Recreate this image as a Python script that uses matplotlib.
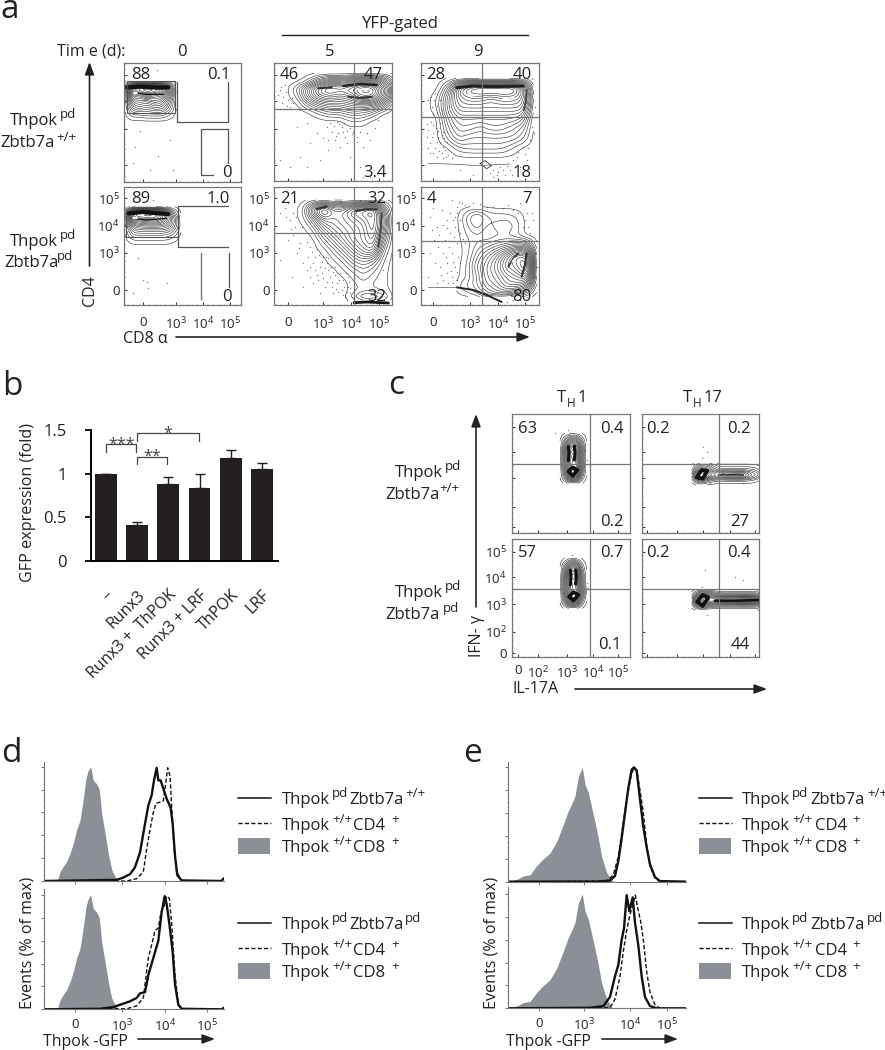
import numpy as np
import matplotlib
matplotlib.use("Agg")
import matplotlib.pyplot as plt
from matplotlib.patches import Rectangle
from matplotlib.ticker import MultipleLocator

plt.rcParams['font.family'] = ['Open Sans', 'DejaVu Sans']
plt.rcParams['mathtext.fontset'] = 'custom'
plt.rcParams['mathtext.rm'] = 'Open Sans'

W, H = 885, 1050
INK = '#222222'
FRAME = '#777777'
FILL = '#8a9096'

# ---- panel b values
bar_names = ['\u2013', 'Runx3', 'Runx3 +  ThPOK', 'Runx3 + LRF', 'ThPOK', 'LRF']
bar_vals = [1.0, 0.41, 0.877, 0.84, 1.18, 1.05]
bar_tops = [1.0, 0.445, 0.958, 0.99, 1.275, 1.12]

# ---- panel a flow data, channels are scanned positions on each plot
a0_top_x = [375, 397, 419, 441, 463, 485, 507, 529]
a0_top_y = [245, 265, 285, 305, 325, 345, 365]
a0_top_z = [[0, 0, 0, 0, 0, 0, 0, 0],
            [0, 12, 16, 16, 16, 14, 7, 0],
            [0, 10, 9, 12, 10, 10, 6, 0],
            [0, 6, 7, 6, 8, 7, 4, 0],
            [0, 4, 5, 4, 5, 5, 3, 0],
            [0, 1.5, 1.5, 2, 2, 2, 1, 0],
            [0, 0, 0, 0, 0, 0, 0, 0]]
a0_bot_x = [375, 399, 423, 447, 471, 495, 519, 543]
a0_bot_y = [620, 640, 660, 680, 700, 720, 740]
a0_bot_z = [[0, 0, 0, 0, 0, 0, 0, 0],
            [0, 14, 15, 15, 14, 10, 3, 0],
            [0, 10, 10, 11, 11, 9, 5, 0],
            [0, 5, 6, 6, 6, 6, 4, 0.6],
            [0, 3, 3, 3, 3, 3, 2, 0],
            [0, 1, 1, 1, 1, 1, 0.6, 0],
            [0, 0, 0, 0, 0, 0, 0, 0]]
a5_top_x = [80, 112, 144, 176, 208, 240, 272, 304, 336, 368, 400]
a5_top_y = [220, 244, 268, 292, 316, 340, 364, 388]
a5_top_z = [[0, 0, 0, 0, 0, 0, 0, 0, 0, 0, 0],
            [0, 0, 1, 4, 6, 6, 7, 8, 8, 6, 2],
            [0, 2, 6, 10, 12, 11, 12, 14, 14, 9, 3],
            [0, 1, 5, 8, 9, 8, 9, 12, 12, 8, 2],
            [0, 0, 2, 4, 5, 5, 6, 6, 6, 4, 0],
            [0, 0, 0, 1, 2, 2, 3, 3, 2, 0, 0],
            [0, 0, 0, 0, 0, 0, 1, 1, 0, 0, 0],
            [0, 0, 0, 0, 0, 0, 0, 0, 0, 0, 0]]
a5_bot_x = [100, 130, 160, 190, 220, 250, 280, 310, 340, 370, 400]
a5_bot_y = [600, 630, 660, 690, 720, 750, 780, 810, 840, 870, 900]
a5_bot_z = [[0, 0, 0, 0, 0, 0, 0, 0, 0, 0, 0],
            [0, 1, 7, 12, 8, 8, 11, 12, 13, 5, 0],
            [0, 0.6, 3, 7, 7, 8, 9, 10, 12, 7, 0],
            [0, 0, 1, 4, 6, 7, 8, 9, 12, 6, 0],
            [0, 0, 0, 2, 4, 6, 8, 9, 11, 4, 0],
            [0, 0, 0, 0.6, 2, 4, 6, 8, 9, 2, 0],
            [0, 0, 0, 0, 1, 2, 4, 5, 4, 1, 0],
            [0, 0, 0, 0, 0, 1, 2, 3, 2, 0.6, 0],
            [0, 0, 0, 0, 0, 0, 1, 2, 1, 0.6, 0],
            [0, 0, 0, 0, 0, 0, 0.6, 1, 1, 0.6, 0],
            [0, 0, 0, 0, 0, 0, 2, 5, 5, 3, 0]]
a9_top_x = [500, 532, 564, 596, 628, 660, 692, 724, 756, 788, 820]
a9_top_y = [235, 265, 295, 325, 355, 385, 415, 445, 475]
a9_top_z = [[0, 0, 0, 0, 0, 0, 0, 0, 0, 0, 0],
            [0, 0, 3, 10, 13, 14, 14, 14, 14, 10, 1],
            [0, 1, 5, 9, 10, 10, 9, 10, 10, 9, 2],
            [0, 1, 5, 8, 8, 8, 8, 8, 8, 8, 1],
            [0, 0, 4, 6, 6, 6, 6, 6, 6, 5, 0],
            [0, 0, 3, 5, 5, 4, 5, 5, 4, 3, 0],
            [0, 0, 2, 4, 3, 3, 3, 3, 3, 2, 0],
            [0, 0, 0, 1.5, 2, 2, 2, 2, 1, 0, 0],
            [0, 0, 0, 0, 0, 0, 0, 0, 0, 0, 0]]
a9_bot_x = [590, 620, 650, 680, 710, 740, 770, 800, 830]
a9_bot_y = [620, 650, 680, 710, 740, 770, 800, 830, 860, 890]
a9_bot_z = [[0, 0, 0, 0, 0, 0, 0, 0, 0],
            [0, 2, 4, 2, 1.5, 1.5, 1, 0, 0],
            [0, 1.5, 3, 1.5, 2, 2.5, 1.5, 0, 0],
            [0, 1, 1.5, 1, 1.5, 1.5, 1, 0, 0],
            [0, 0.6, 2, 3, 4, 5, 6, 6, 0],
            [0, 0.6, 3, 5, 7, 10, 13, 13, 1],
            [0, 1, 4, 6, 8, 11, 12, 15, 1],
            [0, 1, 3, 6, 7, 9, 10, 12, 0.6],
            [1, 2, 3, 5, 6, 8, 8, 6, 0],
            [0, 0, 1, 3, 4, 3, 1, 0, 0]]

a5_top_dots = [(60, 270), (70, 290), (75, 255), (85, 300), (65, 310), (90, 320), (100, 310), (120, 330), (140, 370),
               (170, 400), (200, 380), (215, 395), (230, 365), (245, 380), (255, 410), (270, 385), (225, 420),
               (240, 440), (205, 450), (150, 430), (120, 470), (90, 500), (180, 480), (290, 410), (310, 440),
               (330, 420), (270, 470), (300, 500), (330, 530), (350, 520), (310, 530), (60, 480), (140, 500),
               (260, 430), (235, 400), (190, 415), (280, 395), (300, 395), (355, 360), (380, 340), (110, 380),
               (55, 285), (62, 262), (78, 275), (82, 318), (95, 295), (210, 370), (222, 378), (238, 372), (252, 368),
               (262, 392), (275, 402), (248, 395), (228, 408), (205, 420), (290, 425), (320, 400), (345, 385)]
a5_bot_dots = [(60, 640), (75, 625), (90, 660), (105, 680), (70, 700), (130, 700), (150, 740), (110, 760), (165, 770),
               (130, 790), (180, 800), (200, 790), (150, 830), (175, 840), (210, 830), (195, 860), (230, 850),
               (245, 870), (220, 880), (255, 890), (205, 810), (225, 800), (240, 820), (250, 840), (265, 860),
               (270, 880), (120, 730), (145, 770), (165, 810), (185, 820), (235, 875), (260, 900), (95, 830),
               (60, 780), (85, 720), (200, 845), (215, 860), (265, 830), (190, 770), (370, 810), (380, 760),
               (350, 880), (160, 850), (130, 860), (180, 880), (100, 640), (85, 610), (240, 605), (300, 600),
               (140, 725), (155, 755), (172, 748), (185, 785), (198, 770), (212, 800), (225, 825), (238, 840),
               (252, 860), (262, 875), (275, 892), (268, 845), (258, 818), (205, 775), (178, 765), (160, 790),
               (142, 810), (118, 745), (100, 705), (125, 680), (108, 650), (78, 650), (92, 688), (188, 835),
               (215, 845), (228, 868), (248, 885), (270, 865), (218, 815), (195, 805), (172, 825), (150, 800)]
a9_top_dots = [(505, 300), (515, 320), (530, 340), (510, 350), (525, 280), (540, 370), (505, 390), (520, 400),
               (535, 410), (550, 395), (510, 430), (525, 445), (540, 430), (555, 450), (565, 465), (510, 460),
               (530, 470), (550, 475), (575, 475), (545, 350), (500, 410), (520, 375), (545, 460), (560, 425),
               (700, 510), (720, 500), (735, 525), (750, 510), (710, 525), (690, 520), (770, 470), (790, 440),
               (810, 420), (800, 480), (780, 500), (820, 350), (815, 380), (600, 510), (640, 525), (540, 300),
               (512, 365), (528, 385), (545, 405), (502, 372), (515, 412), (532, 425), (548, 442), (505, 445),
               (520, 458), (538, 452), (558, 470), (568, 450), (552, 415), (535, 392), (518, 342), (532, 318),
               (545, 330), (512, 290), (522, 300), (715, 515), (728, 510), (742, 498), (760, 480), (775, 455),
               (795, 462), (805, 445), (822, 400), (825, 320), (700, 530), (755, 525)]
a9_bot_dots = [(510, 650), (530, 680), (545, 630), (560, 660), (570, 700), (555, 720), (535, 740), (585, 680),
               (590, 730), (575, 760), (560, 790), (540, 800), (585, 800), (575, 830), (550, 840), (530, 850),
               (510, 760), (595, 770), (600, 700), (605, 610), (590, 620), (570, 640), (780, 610), (800, 640),
               (790, 680), (810, 700), (820, 660), (640, 610), (700, 620), (730, 625), (760, 630), (575, 600),
               (590, 840), (560, 820), (600, 790), (505, 830), (525, 790), (770, 880), (790, 880), (760, 900),
               (740, 905), (810, 850), (830, 800), (825, 760), (600, 660), (585, 650), (615, 730), (550, 760),
               (582, 712), (568, 742), (578, 785), (592, 815), (572, 812), (558, 772), (542, 825), (565, 848),
               (580, 850), (595, 690), (608, 718), (562, 685), (578, 660), (590, 640), (598, 605), (615, 615),
               (660, 612), (680, 620), (745, 615), (775, 640), (795, 660), (805, 680), (815, 640), (522, 720),
               (515, 690), (538, 705), (548, 675), (520, 625), (800, 890), (780, 900), (752, 885), (822, 830)]
a0_top_dots = [(420, 393), (510, 420), (400, 488), (475, 468), (450, 510), (470, 210), (405, 440), (520, 510)]
a0_bot_dots = [(415, 775), (440, 845), (400, 880), (445, 865), (430, 840), (460, 600), (500, 850)]

# ridge strokes: x list, y list, width, colour
a0_top_ridges = [([380, 420, 470, 505], [262, 260, 263, 262], 3.0, '#111111'), ([400, 440, 490], [278, 283, 283], 0.9, '#111111'),
                 ([402, 410], [278, 278], 1.4, 'white')]
a0_bot_ridges = [([385, 430, 470, 505], [640, 636, 640, 642], 3.0, '#111111'), ([395, 440, 500], [655, 660, 655], 0.9, '#111111'),
                 ([400, 412], [654, 654], 1.4, 'white')]
a5_top_ridges = [([175, 215], [265, 262], 1.5, '#333333'), ([250, 300, 350], [258, 252, 255], 1.8, '#222222'),
                 ([265, 300, 335], [290, 294, 290], 1.5, '#333333'), ([290, 325], [268, 268], 1.0, 'white')]
a5_bot_ridges = [([170, 200], [627, 620], 1.6, '#333333'), ([285, 320, 350], [633, 628, 628], 1.5, '#333333'),
                 ([365, 362, 355], [640, 690, 740], 1.3, '#444444'), ([282, 320, 385], [908, 906, 909], 2.0, '#111111')]
a9_top_ridges = [([590, 640, 700, 790], [263, 258, 260, 258], 2.2, '#222222'), ([800, 798, 792], [270, 300, 330], 1.3, '#444444'),
                 ([625, 650], [285, 285], 1.2, 'white'), ([730, 760], [295, 293], 1.2, 'white')]
a9_bot_ridges = [([800, 795, 785], [760, 795, 830], 1.6, '#333333'), ([745, 760, 775], [800, 775, 760], 1.3, '#333333'),
                 ([757, 765], [785, 775], 1.2, 'white'), ([590, 640, 680, 725], [862, 870, 885, 906], 1.4, '#222222'),
                 ([505, 590], [862, 862], 0.5, '#555555')]
a9_top_small = [([660, 675, 695, 680, 660], [490, 482, 497, 506, 490], 0.6, '#333333'),
                ([505, 590, 660, 690, 750], [490, 493, 497, 495, 492], 0.5, '#555555')]

# ---- panel c flow data
c1_x = [510, 526, 542, 558, 574, 590]
c1_top_y = [160, 185, 210, 235, 260, 285, 310]
c1_bot_y = [535, 560, 585, 610, 635, 660, 685]
c1_top_z = [[0, 0, 0, 0, 0, 0],
            [0, 3, 7, 7, 3, 0],
            [0, 6, 12, 12, 5, 0],
            [0, 5, 10, 10, 4, 0],
            [0, 5, 10, 12, 5, 0],
            [0, 4, 11, 11, 3, 0],
            [0, 0, 0, 0, 0, 0]]
c1_bot_z = [[0, 0, 0, 0, 0, 0],
            [0, 3, 8, 8, 2, 0],
            [0, 5, 12, 12, 4, 0],
            [0, 5, 10, 10, 4, 0],
            [0, 5, 10, 12, 6, 0.6],
            [0, 4, 11, 10, 3, 0],
            [0, 0, 0, 0, 0, 0]]
c17_x = [905, 930, 955, 980, 1005, 1030, 1055, 1080, 1112]
c17_top_y = [250, 270, 285, 300, 315]
c17_bot_y = [630, 645, 660, 675, 690]
c17_top_z = [[0, 1.5, 2, 0, 0, 0, 0, 0, 0],
             [0, 6, 5, 2, 2, 2, 2, 2, 1],
             [2, 12, 8, 6, 8, 8, 9, 5, 3],
             [0, 5, 2, 1, 1, 1, 1, 1, 0],
             [0, 0, 0, 0, 0, 0, 0, 0, 0]]
c17_bot_z = [[0, 0.6, 1, 0, 0, 0, 0, 0, 0],
             [0, 6, 6, 3, 3, 3, 3, 3, 3],
             [2, 13, 9, 9, 11, 10, 12, 11, 9],
             [0, 6, 4, 3, 3, 3, 3, 3, 3],
             [0, 0, 0, 0, 0, 0, 0, 0, 0]]
c1_top_dots = [(535, 150), (540, 160), (495, 158), (590, 240), (600, 255), (585, 210)]
c1_bot_dots = [(545, 525), (590, 610), (595, 625), (520, 640)]
c17_top_dots = [(940, 200), (935, 235), (950, 215), (1000, 270), (1060, 310), (960, 310)]
c17_bot_dots = [(945, 570), (935, 620), (1035, 590), (950, 705), (1060, 600)]

c1_top_ridges = [([535, 537, 535], [200, 220, 242], 2.2, '#111111'), ([553, 555, 553], [198, 220, 240], 2.2, '#111111'),
                 ([536, 548, 562, 548, 536], [274, 262, 270, 288, 274], 2.6, '#111111')]
c1_bot_ridges = [([541, 543, 541], [570, 590, 615], 2.2, '#111111'), ([557, 559, 557], [570, 590, 612], 2.2, '#111111'),
                 ([538, 550, 565, 550, 538], [650, 636, 645, 662, 650], 2.6, '#111111')]
c17_top_ridges = [([920, 935, 952, 938, 920], [292, 270, 272, 296, 292], 2.6, '#111111'), ([985, 1020, 1060], [285, 284, 285], 1.2, '#333333')]
c17_bot_ridges = [([922, 938, 955, 938, 922], [665, 645, 652, 678, 665], 2.6, '#111111'), ([975, 1040, 1108], [662, 662, 660], 2.0, '#111111')]

# ---- histograms, channel against % of max
d_gray_x = [172, 180, 190, 200, 210, 220, 230, 240, 250, 258, 265, 272, 280, 290, 298, 305, 315, 325, 335, 345, 355]
d_gray_y = [0, 8, 13, 17, 24, 33, 45, 53, 72, 90, 97, 100, 88, 85, 80, 59, 42, 24, 10, 4, 0]
d1_solid_x = [133, 350, 370, 390, 405, 420, 435, 445, 455, 462, 470, 475, 482, 492, 500, 512, 518, 525, 532, 545, 665, 670]
d1_solid_y = [0, 1, 3, 6, 12, 25, 50, 66, 75, 88, 99, 88, 88, 79, 72, 64, 50, 22, 5, 0.5, 0, 2]
d1_dash_x = [133, 380, 410, 430, 440, 450, 460, 468, 480, 490, 497, 503, 510, 515, 522, 530, 545, 672]
d1_dash_y = [0, 0, 2, 8, 28, 45, 60, 68, 69, 70, 85, 99, 92, 65, 30, 8, 0, 0]
d2_solid_x = [133, 300, 340, 370, 390, 410, 420, 435, 445, 460, 475, 485, 494, 500, 508, 518, 525, 535, 545, 665, 670]
d2_solid_y = [0, 0.5, 2, 5, 7, 10, 14, 15, 30, 45, 60, 85, 99, 92, 75, 50, 22, 4, 0.5, 0, 1]
d2_dash_x = [133, 380, 410, 430, 445, 458, 465, 475, 483, 492, 500, 508, 515, 525, 535, 545, 672]
d2_dash_y = [0, 0.5, 3, 10, 45, 60, 69, 71, 85, 90, 99, 97, 75, 30, 5, 0, 0]

e_gray_x = [175, 200, 220, 240, 260, 280, 300, 320, 340, 355, 365, 375, 385, 397, 405, 415, 425, 435, 445, 455, 470, 485, 495]
e_gray_y = [0, 2, 5, 6, 14, 20, 25, 35, 50, 62, 68, 75, 92, 100, 85, 78, 65, 52, 38, 22, 8, 1, 0]
e1_solid_x = [175, 440, 480, 495, 505, 515, 525, 535, 545, 552, 560, 570, 580, 590, 600, 615, 630, 707]
e1_solid_y = [0, 0, 1, 5, 18, 38, 60, 82, 98, 100, 97, 72, 48, 30, 15, 4, 0.5, 0]
e1_dash_x = [175, 470, 490, 505, 515, 525, 535, 545, 552, 560, 570, 580, 590, 600, 615, 630, 707]
e1_dash_y = [0, 0.5, 6, 22, 42, 62, 80, 95, 99, 98, 80, 60, 32, 14, 3, 0, 0]
e2_solid_x = [175, 420, 460, 480, 495, 505, 515, 522, 530, 538, 548, 555, 565, 575, 585, 600, 620, 707]
e2_solid_y = [0, 0.5, 2, 10, 28, 38, 60, 70, 99, 85, 97, 75, 55, 28, 10, 2, 0, 0]
e2_dash_x = [175, 480, 495, 510, 520, 530, 540, 548, 556, 563, 572, 580, 590, 600, 615, 630, 707]
e2_dash_y = [0, 0.5, 8, 28, 50, 68, 82, 90, 99, 88, 76, 60, 32, 14, 3, 0, 0]

fig = plt.figure(figsize=(W / 100, H / 100), dpi=100)


def pax(ox, oy, x0, y0, x1, y1):
    # axes from scan positions, zoomed 3x from origin ox, oy
    left = ox + x0 / 3
    right = ox + x1 / 3
    top = oy + y0 / 3
    bottom = oy + y1 / 3
    ax = fig.add_axes([left / W, 1 - bottom / H, (right - left) / W, (bottom - top) / H])
    ax.set_xlim(x0, x1)
    ax.set_ylim(y1, y0)
    return ax


def soften(gx, gy, gz):
    # finer grid so the contour lines come out round instead of blocky
    gz = np.array(gz, dtype=float)
    xs = np.linspace(gx[0], gx[-1], (len(gx) - 1) * 6 + 1)
    ys = np.linspace(gy[0], gy[-1], (len(gy) - 1) * 6 + 1)
    z = np.array([np.interp(xs, gx, row) for row in gz])
    z = np.array([np.interp(ys, gy, col) for col in z.T]).T
    k = np.ones(5) / 5
    for i in range(2):
        z = np.apply_along_axis(lambda r: np.convolve(r, k, mode='same'), 1, z)
        z = np.apply_along_axis(lambda r: np.convolve(r, k, mode='same'), 0, z)
    return xs, ys, z


LOG = r'$\mathregular{10^{%d}}$'


def flow(ax, gx, gy, gz, dots, vline, hline, nums, xt=None, yt=None, xl=None, yl=None, ridges=(), xpad=8, ypad=3):
    ax.patch.set_alpha(0)
    for s in ax.spines.values():
        s.set_color(FRAME)
        s.set_linewidth(0.9)
    if dots:
        ax.scatter([p[0] for p in dots], [p[1] for p in dots], s=0.9, c='#777777', linewidths=0, zorder=1)
    xs, ys, z = soften(gx, gy, gz)
    ax.contour(xs, ys, z, levels=np.arange(0.35, 16, 0.7), colors='#2a2a2a', linewidths=0.4, zorder=2)
    for rx, ry, lw, col in ridges:
        ax.plot(rx, ry, color=col, lw=lw, solid_capstyle='round', zorder=2.5)
    if vline:
        ax.axvline(vline, color=FRAME, lw=0.9, zorder=3)
    if hline:
        ax.axhline(hline, color=FRAME, lw=0.9, zorder=3)
    for nx, ny, s, ha in nums:
        ax.text(nx, ny, s, fontsize=12, color=INK, ha=ha, va='baseline', zorder=5)
    ax.set_xticks(xt if xt else [])
    ax.set_yticks(yt if yt else [])
    ax.set_xticklabels(xl if xl else [''] * len(xt or []), fontsize=9.5, color=INK)
    ax.set_yticklabels(yl if yl else [''] * len(yt or []), fontsize=9.5, color=INK)
    ax.xaxis.set_minor_locator(MultipleLocator(16))
    ax.yaxis.set_minor_locator(MultipleLocator(16))
    ax.tick_params(axis='both', direction='in', length=2.2, width=0.7, color='#333333')
    ax.tick_params(axis='both', which='minor', direction='in', length=1, width=0.4, color='#555555')
    ax.tick_params(axis='x', which='major', pad=xpad)
    ax.tick_params(axis='y', which='major', pad=ypad)


a_xt0 = [428, 528, 610, 690]
a_xt5 = [85, 188, 273, 357]
a_xt9 = [520, 630, 715, 795]
a_yt = [595, 677, 758, 870]
a_yt_top = [225, 302, 388, 495]
a_xl = ['0', LOG % 3, LOG % 4, LOG % 5]
a_yl = [LOG % 5, LOG % 4, LOG % 3, '0']

ax = pax(0, 0, 372, 188, 722, 545)
flow(ax, a0_top_x, a0_top_y, a0_top_z, a0_top_dots, None, None,
     [(392, 238, '88', 'left'), (690, 238, '0.1', 'right'), (695, 530, '0', 'right')], a_xt0, a_yt_top, ridges=a0_top_ridges)
ax.add_patch(Rectangle((381, 242), 143, 98, fill=False, ec='#555555', lw=0.8, zorder=4))
ax.plot([532, 532, 685, 685], [246, 367, 367, 246], color='#555555', lw=0.9, zorder=4)
ax.plot([639, 602, 602, 685, 685], [525, 525, 387, 387, 490], color='#555555', lw=0.9, zorder=4)

ax = pax(0, 0, 372, 562, 722, 915)
flow(ax, a0_bot_x, a0_bot_y, a0_bot_z, a0_bot_dots, None, None,
     [(392, 610, '89', 'left'), (690, 610, '1.0', 'right'), (695, 902, '0', 'right')], a_xt0, a_yt, a_xl, a_yl, ridges=a0_bot_ridges)
ax.plot([378, 378, 535, 535], [628, 710, 710, 628], color='#555555', lw=0.8, zorder=4)
ax.plot([685, 535, 535, 685], [617, 617, 740, 740], color='#555555', lw=0.9, zorder=4)
ax.plot([603, 603], [760, 897], color='#777777', lw=1.0, zorder=4)
ax.plot([688, 688], [760, 860], color='#555555', lw=0.9, zorder=4)

ax = pax(260, 0, 42, 188, 395, 543)
flow(ax, a5_top_x, a5_top_y, a5_top_z, a5_top_dots, 283, 326,
     [(58, 238, '46', 'left'), (368, 238, '47', 'right'), (380, 530, '3.4', 'right')], a_xt5, a_yt_top, ridges=a5_top_ridges)

ax = pax(260, 0, 42, 562, 395, 915)
flow(ax, a5_bot_x, a5_bot_y, a5_bot_z, a5_bot_dots, 283, 698,
     [(60, 610, '21', 'left'), (378, 610, '32', 'right'), (378, 902, '32', 'right')], a_xt5, a_yt, a_xl, a_yl, ridges=a5_bot_ridges)

ax = pax(260, 0, 483, 188, 838, 543)
flow(ax, a9_top_x, a9_top_y, a9_top_z, a9_top_dots, 665, 351,
     [(499, 238, '28', 'left'), (815, 238, '40', 'right'), (815, 530, '18', 'right')], a_xt9, a_yt_top, ridges=a9_top_ridges + a9_top_small)

ax = pax(260, 0, 483, 562, 838, 915)
flow(ax, a9_bot_x, a9_bot_y, a9_bot_z, a9_bot_dots, 665, 722,
     [(499, 610, '4', 'left'), (815, 610, '7', 'right'), (815, 902, '80', 'right')], a_xt9, a_yt, a_xl, a_yl, ridges=a9_bot_ridges)

# ---- panel c
c_xt = [385, 445, 530, 610, 685]
c_yt = [515, 592, 672, 755, 820]
c_yt_top = [140, 215, 295, 380, 440]
c_xl = ['0', LOG % 2, LOG % 3, LOG % 4, LOG % 5]
c_yl = [LOG % 5, LOG % 4, LOG % 3, LOG % 2, '0']

ax = pax(390, 380, 367, 103, 720, 458)
flow(ax, c1_x, c1_top_y, c1_top_z, c1_top_dots, 601, 253,
     [(383, 158, '63', 'left'), (702, 158, '0.4', 'right'), (700, 437, '0.2', 'right')], c_xt, c_yt_top, ridges=c1_top_ridges)
ax = pax(390, 380, 367, 478, 720, 832)
flow(ax, c1_x, c1_bot_y, c1_bot_z, c1_bot_dots, 601, 628,
     [(383, 530, '57', 'left'), (702, 530, '0.7', 'right'), (695, 808, '0.1', 'right')], c_xt, c_yt, c_xl, c_yl, ridges=c1_bot_ridges, xpad=5, ypad=4)
ax = pax(390, 380, 755, 103, 1108, 458)
flow(ax, c17_x, c17_top_y, c17_top_z, c17_top_dots, 988, 253,
     [(768, 158, '0.2', 'left'), (1082, 158, '0.2', 'right'), (1078, 437, '27', 'right')], [770, 860, 940, 1020, 1095], c_yt_top, ridges=c17_top_ridges)
ax = pax(390, 380, 755, 478, 1108, 832)
flow(ax, c17_x, c17_bot_y, c17_bot_z, c17_bot_dots, 988, 628,
     [(768, 530, '0.2', 'left'), (1082, 530, '0.4', 'right'), (1080, 808, '44', 'right')], [770, 860, 940, 1020, 1095], c_yt, ridges=c17_bot_ridges)

# ---- panel b
ax = fig.add_axes([90.7 / W, 1 - 560.7 / H, (278 - 90.7) / W, 130.7 / H])
ax.patch.set_alpha(0)
ax.bar(range(6), bar_vals, width=0.7, color='#231f20')
ax.errorbar(range(6), bar_vals, yerr=[[0] * 6, np.array(bar_tops) - np.array(bar_vals)], fmt='none',
            ecolor='#231f20', elinewidth=1.0, capsize=3.3, capthick=1.0)
ax.set_xlim(-0.479, 5.51)
ax.set_ylim(0, 1.5)
for s in ['top', 'right']:
    ax.spines[s].set_visible(False)
ax.spines['left'].set_linewidth(1.4)
ax.spines['bottom'].set_linewidth(1.4)
ax.set_yticks([0, 0.5, 1, 1.5])
ax.set_yticklabels(['0', '0.5', '1', '1.5'], fontsize=12, color=INK)
ax.tick_params(axis='y', length=4.3, width=1.3, pad=13)
ax.set_xticks(range(6))
ax.set_xticklabels(bar_names, rotation=45, ha='right', rotation_mode='anchor', fontsize=11.5, color=INK)
ax.tick_params(axis='x', length=0, pad=19)
ax.plot([0.02, 0.02, 0.97, 0.97], [1.25, 1.34, 1.34, 1.25], color='#444444', lw=0.9, clip_on=False)
ax.plot([1.01, 1.01, 2.97, 2.97], [1.37, 1.464, 1.464, 1.37], color='#444444', lw=0.9, clip_on=False)
ax.plot([1.01, 1.01, 1.95, 1.95], [1.11, 1.195, 1.195, 1.11], color='#444444', lw=0.9, clip_on=False)
ax.text(0.5, 1.33, '***', fontsize=11.5, ha='center', va='center', color='#444444')
ax.text(1.48, 1.19, '**', fontsize=11.5, ha='center', va='center', color='#444444')
ax.text(1.98, 1.46, '*', fontsize=11.5, ha='center', va='center', color='#444444')


# ---- histograms
def hist(ox, oy, x0, x1, y_base, y_top, gx, gy, sx, sy, dx, dy, xt=None, xl=None):
    left = ox + x0 / 3
    right = ox + x1 / 3
    top = oy + y_top / 3
    bottom = oy + y_base / 3
    ax = fig.add_axes([left / W, 1 - bottom / H, (right - left) / W, (bottom - top) / H])
    ax.patch.set_alpha(0)
    ax.set_xlim(x0, x1)
    ax.set_ylim(0, (y_base - y_top) / 3.43)
    ax.fill_between(gx, gy, 0, color=FILL, lw=0)
    ax.plot(dx, dy, color='#111111', lw=1.0, ls=(0, (3, 1.6)))
    ax.plot(sx, sy, color='#111111', lw=1.7)
    for s in ['top', 'right']:
        ax.spines[s].set_visible(False)
    ax.spines['left'].set_color(FRAME)
    ax.spines['bottom'].set_color(FRAME)
    ax.set_yticks([0, 20, 40, 60, 80, 100])
    ax.set_yticklabels([''] * 6)
    ax.set_yticks(np.arange(0, 101, 5), minor=True)
    ax.tick_params(axis='y', length=2.5, width=0.7, color=FRAME, direction='out')
    ax.tick_params(axis='y', which='minor', length=1, width=0.4, color=FRAME, direction='out')
    ax.set_xticks(xt if xt else [])
    ax.set_xticklabels(xl if xl else [], fontsize=9.5, color=INK)
    ax.tick_params(axis='x', length=2, width=0.7, color=FRAME, pad=4)
    return ax


h_xl = ['0', LOG % 3, LOG % 4, LOG % 5]
hist(0, 730, 133, 672, 453, 95, d_gray_x, d_gray_y, d1_solid_x, d1_solid_y, d1_dash_x, d1_dash_y, [225, 367, 495, 620], ['', '', '', ''])
hist(0, 730, 133, 672, 838, 478, d_gray_x, d_gray_y, d2_solid_x, d2_solid_y, d2_dash_x, d2_dash_y, [225, 367, 495, 620], h_xl)
hist(450, 730, 175, 707, 455, 95, e_gray_x, e_gray_y, e1_solid_x, e1_solid_y, e1_dash_x, e1_dash_y, [268, 403, 540, 650], ['', '', '', ''])
hist(450, 730, 175, 707, 835, 472, e_gray_x, e_gray_y, e2_solid_x, e2_solid_y, e2_dash_x, e2_dash_y, [268, 403, 540, 650], h_xl)

# ---- overlay for labels, arrows, legends, in image pixels
ov = fig.add_axes([0, 0, 1, 1])
ov.set_xlim(0, W)
ov.set_ylim(H, 0)
ov.axis('off')
ov.patch.set_alpha(0)


def t(x, y, s, size=12, ha='left', rot=0, va='baseline'):
    ov.text(x, y, s, fontsize=size, ha=ha, va=va, rotation=rot, color=INK, rotation_mode='anchor')


def arrow(x0, y0, x1, y1):
    ov.annotate('', xy=(x1, y1), xytext=(x0, y0),
                arrowprops=dict(arrowstyle='-|>,head_length=0.75,head_width=0.28', color='#222222', lw=1.2, shrinkA=0, shrinkB=0))


for letter, x, y in [('a', 0, 18), ('b', 2, 395), ('c', 388, 394), ('d', 1, 762), ('e', 463, 762)]:
    t(x, y, letter, size=24)

# panel a text
t(57, 56, 'Tim e (d):', size=11.5)
t(182, 56, '0', ha='center')
t(330, 56, '5', ha='center')
t(478, 56, '9', ha='center')
t(400, 28, 'YFP-gated', ha='center')
ov.plot([282, 527.6], [35, 35], color='#222222', lw=1.0)
t(10, 125, 'Thpok')
t(60, 118, 'pd', size=9.5)
t(0, 147, 'Zbtb7a')
t(56, 141, '+/+', size=9.5)
t(10, 246, 'Thpok')
t(60, 239, 'pd', size=9.5)
t(4, 267, 'Zbtb7a')
t(57, 260, 'pd', size=9.5)
t(94, 306, 'CD4', size=11.5, rot=90)
arrow(89.5, 266, 89.5, 62)
t(123, 343, 'CD8 \u03b1', size=11.5)
arrow(176, 337, 530, 337)

# panel b text
t(32, 502, 'GFP expression (fold)', size=11.6, rot=90, ha='center')

# panel c text
t(557, 402, 'T')
t(567, 407, 'H', size=8.5)
t(578, 402, '1')
t(683, 402, 'T')
t(693, 407, 'H', size=8.5)
t(704, 402, '17')
t(395, 477, 'Thpok')
t(445, 470, 'pd', size=9.5)
t(385, 499, 'Zbtb7a')
t(439, 492, '+/+', size=9.5)
t(395, 597, 'Thpok')
t(445, 590, 'pd', size=9.5)
t(385, 619, 'Zbtb7a')
t(443, 612, 'pd', size=9.5)
t(481, 657, 'IFN- \u03b3', size=11.5, rot=90)
arrow(476, 607, 476, 414)
t(512, 693, 'IL-17A', size=11.5)
arrow(575, 689, 767, 689)

# panels d, e text
t(32, 942.5, 'Events (% of max)', size=11.6, rot=90, ha='center')
t(495, 942.5, 'Events (% of max)', size=11.6, rot=90, ha='center')
t(43, 1046, 'Thpok -GFP', size=11.5)
arrow(138, 1039, 215, 1039)
t(506, 1046, 'Thpok -GFP', size=11.5)
arrow(602, 1039, 678, 1039)

# legends: x of swatch start, text start, sup, second word, sup on row 1, word row 2, sup row 2
for lx, tx, sx, wx, s1x, cx, s2x in [(238, 282, 332, 349, 405, 353, 391), (699, 742, 792, 810, 867, 815, 852)]:
    for dy, last in [(0, '+/+'), (124.7, 'pd')]:
        ov.plot([lx, lx + 33], [798 + dy, 798 + dy], color='#111111', lw=1.1)
        t(tx, 804 + dy, 'Thpok')
        t(sx, 797 + dy, 'pd', size=9.5)
        t(wx, 804 + dy, 'Zbtb7a')
        t(s1x, 797 + dy, last, size=9.5)
        ov.plot([lx, lx + 33], [823 + dy, 823 + dy], color='#111111', lw=1.0, ls=(0, (3, 1.6)))
        t(tx, 830 + dy, 'Thpok')
        t(sx, 823 + dy, '+/+', size=9.5)
        t(cx, 830 + dy, 'CD4')
        t(s2x, 823 + dy, '+', size=9.5)
        ov.add_patch(Rectangle((lx, 838 + dy), 32, 16, color=FILL, lw=0))
        t(tx, 852 + dy, 'Thpok')
        t(sx, 845 + dy, '+/+', size=9.5)
        t(cx, 852 + dy, 'CD8')
        t(s2x, 845 + dy, '+', size=9.5)

fig.savefig('out.png', dpi=100)
